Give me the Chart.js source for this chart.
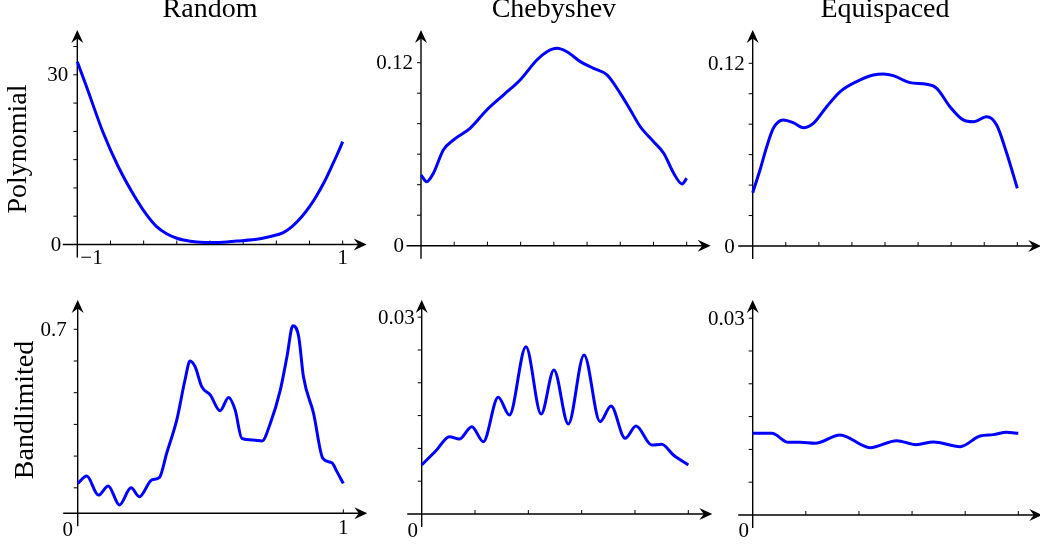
<!DOCTYPE html>
<html>
<head>
<meta charset="utf-8">
<script src="https://cdn.jsdelivr.net/npm/chart.js@4/dist/chart.umd.min.js"></script>
<style>
  html, body { margin: 0; padding: 0; background: #fff; }
  #lienzo { position: relative; width: 1040px; height: 546px; overflow: hidden; }
  #lienzo canvas { position: absolute; left: 0; top: 0; }
</style>
</head>
<body>
<div id="lienzo">
  <canvas id="randPoly" width="1040" height="546"></canvas>
  <canvas id="chebPoly" width="1040" height="546"></canvas>
  <canvas id="equiPoly" width="1040" height="546"></canvas>
  <canvas id="randBand" width="1040" height="546"></canvas>
  <canvas id="chebBand" width="1040" height="546"></canvas>
  <canvas id="equiBand" width="1040" height="546"></canvas>
</div>
<script>
"use strict";
/* Datos: fila superior (polinomios en [-1, 1]) */
const randPolyX = [-1, -0.935, -0.804, -0.691, -0.552, -0.47, -0.402, -0.327, -0.25, -0.2, -0.1, 0.05, 0.2, 0.376, 0.45, 0.552, 0.62, 0.691, 0.75, 0.8, 0.86, 0.917, 0.96, 1];
const randPolyY = [32.3, 28.2, 19.7, 13.75, 7.87, 5.0, 3.15, 1.9, 1.1, 0.8, 0.45, 0.35, 0.6, 1.0, 1.4, 2.1, 3.2, 4.9, 6.7, 8.5, 11.0, 13.8, 16.0, 18.17];

const chebPolyX = [-1, -0.957, -0.907, -0.832, -0.756, -0.631, -0.505, -0.38, -0.254, -0.128, -0.052, 0.023, 0.098, 0.199, 0.299, 0.4, 0.5, 0.576, 0.651, 0.751, 0.827, 0.902, 0.965, 1];
const chebPolyY = [0.0464, 0.042, 0.0475, 0.0628, 0.0693, 0.077, 0.089, 0.0988, 0.1087, 0.1218, 0.1272, 0.1294, 0.1272, 0.1207, 0.1163, 0.112, 0.0999, 0.089, 0.078, 0.0682, 0.0606, 0.0475, 0.0405, 0.0442];

const equiPolyX = [-1, -0.945, -0.894, -0.844, -0.769, -0.693, -0.618, -0.542, -0.441, -0.34, -0.214, -0.088, -0.013, 0.063, 0.189, 0.315, 0.391, 0.491, 0.592, 0.668, 0.769, 0.844, 0.92, 1];
const equiPolyY = [0.035, 0.0499, 0.0652, 0.0773, 0.0828, 0.081, 0.0777, 0.0806, 0.0915, 0.1013, 0.108, 0.1123, 0.113, 0.1119, 0.1073, 0.1062, 0.1036, 0.0915, 0.0828, 0.0816, 0.0849, 0.0795, 0.0609, 0.0379];

/* Datos: fila inferior (banda limitada en [0, 1]) */
const randBandX = [0, 0.034, 0.078, 0.115, 0.157, 0.201, 0.232, 0.279, 0.308, 0.335, 0.373, 0.404, 0.423, 0.442, 0.467, 0.499, 0.536, 0.568, 0.593, 0.618, 0.662, 0.694, 0.725, 0.763, 0.788, 0.81, 0.832, 0.85, 0.888, 0.923, 0.957, 0.976, 1];
const randBandY = [0.214, 0.237, 0.177, 0.206, 0.146, 0.2, 0.172, 0.225, 0.233, 0.309, 0.414, 0.54, 0.6, 0.582, 0.519, 0.493, 0.443, 0.485, 0.445, 0.356, 0.351, 0.348, 0.403, 0.509, 0.614, 0.711, 0.677, 0.55, 0.435, 0.293, 0.279, 0.251, 0.214];

const chebBandX = [0, 0.056, 0.104, 0.141, 0.188, 0.231, 0.287, 0.329, 0.391, 0.448, 0.496, 0.55, 0.609, 0.669, 0.71, 0.763, 0.804, 0.863, 0.9, 0.944, 1];
const chebBandY = [0.00747, 0.00976, 0.01179, 0.01143, 0.01331, 0.01102, 0.01779, 0.01509, 0.0255, 0.01524, 0.02195, 0.01372, 0.02424, 0.01407, 0.01646, 0.01154, 0.01341, 0.01052, 0.01062, 0.00899, 0.00747];

const equiBandX = [0, 0.072, 0.134, 0.178, 0.235, 0.329, 0.442, 0.542, 0.615, 0.68, 0.781, 0.856, 0.906, 0.956, 1];
const equiBandY = [0.01245, 0.01245, 0.01108, 0.01108, 0.01093, 0.0122, 0.01026, 0.01133, 0.01072, 0.01113, 0.01042, 0.01204, 0.01225, 0.01261, 0.01245];

/* Marcas de los ejes */
const ticksPolyX = [-0.75, -0.5, -0.25, 0, 0.25, 0.5, 0.75, 1];
const ticksRandPolyY = [5, 10, 15, 20, 25, 30, 35];
const ticksPolyY = [0.02, 0.04, 0.06, 0.08, 0.1, 0.12];
const ticksRandBandX = [1];
const ticksRandBandY = [0.2, 0.3, 0.4, 0.5, 0.6, 0.7];
const ticksBandX = [0.2, 0.4, 0.6, 0.8, 1];
const ticksBandY = [0.005, 0.01, 0.015, 0.02, 0.025, 0.03];

const FUENTE = '"Liberation Serif", "DejaVu Serif", serif';
const W = 1040, H = 546;

/* Flecha tipo "stealth" en la punta de un eje */
function flecha(ctx, x, y, ang) {
    ctx.save();
    ctx.translate(x, y);
    ctx.rotate(ang);
    ctx.beginPath();
    ctx.moveTo(0, 0);
    ctx.lineTo(-13, -6);
    ctx.lineTo(-8.5, 0);
    ctx.lineTo(-13, 6);
    ctx.closePath();
    ctx.fill();
    ctx.restore();
}

function linea(ctx, x1, y1, x2, y2) {
    ctx.beginPath();
    ctx.moveTo(x1, y1);
    ctx.lineTo(x2, y2);
    ctx.stroke();
}

/* Ejes cruzados con flechas, marcas y etiquetas */
const ejes = {
    id: "ejes",
    beforeDatasetsDraw(chart, args, o) {
        const { ctx, chartArea: a } = chart;
        const sx = chart.scales.x, sy = chart.scales.y;
        const x0 = sx.getPixelForValue(sx.min);
        const y0 = sy.getPixelForValue(sy.min);
        ctx.save();
        ctx.strokeStyle = "#000";
        ctx.fillStyle = "#000";
        ctx.lineWidth = 1.4;

        const xFin = a.right + 24;
        linea(ctx, x0 - 14.5, y0, xFin - 8, y0);
        flecha(ctx, xFin, y0, 0);
        linea(ctx, x0, y0 + 13, x0, a.top + 8);
        flecha(ctx, x0, a.top, -Math.PI / 2);

        ctx.lineWidth = 1;
        o.xTicks.forEach(v => {
            const p = sx.getPixelForValue(v);
            linea(ctx, p, y0, p, y0 - 4);
        });
        o.yTicks.forEach(v => {
            const p = sy.getPixelForValue(v);
            if (p > a.top + 12) linea(ctx, x0, p, x0 - 4, p);
        });

        ctx.font = "21px " + FUENTE;
        ctx.textBaseline = "middle";
        ctx.textAlign = "right";
        o.yLabels.forEach(l => {
            ctx.fillText(l.t, x0 + l.dx, sy.getPixelForValue(l.v) + 1);
        });
        ctx.textBaseline = "alphabetic";
        o.xLabels.forEach(l => {
            ctx.textAlign = l.align || "center";
            ctx.fillText(l.t, sx.getPixelForValue(l.v) + l.dx, y0 + l.dy);
        });

        ctx.font = "28px " + FUENTE;
        if (o.titulo) {
            ctx.textAlign = "center";
            ctx.fillText(o.titulo, (a.left + a.right) / 2, 17);
        }
        if (o.fila) {
            ctx.save();
            ctx.translate(o.fila.x, o.fila.y);
            ctx.rotate(-Math.PI / 2);
            ctx.textAlign = "center";
            ctx.fillText(o.fila.t, 0, 0);
            ctx.restore();
        }
        ctx.restore();
    }
};

/* Crear un panel: caja en píxeles del dominio [xmin,xmax] x [ymin,ymax] */
function crearPanel(id, xs, ys, caja, opcionesEjes) {
    const puntos = xs.map((x, i) => ({ x: x, y: ys[i] }));
    return new Chart(document.getElementById(id), {
        type: "line",
        data: {
            datasets: [{
                data: puntos,
                borderColor: "#0000ff",
                borderWidth: 3,
                pointRadius: 0,
                fill: false,
                cubicInterpolationMode: "monotone",
                clip: 4
            }]
        },
        options: {
            responsive: false,
            animation: false,
            events: [],
            layout: {
                padding: {
                    left: caja.izq,
                    right: W - caja.der,
                    top: caja.arriba,
                    bottom: H - caja.abajo
                }
            },
            scales: {
                x: { type: "linear", min: caja.xmin, max: caja.xmax, display: false },
                y: { type: "linear", min: caja.ymin, max: caja.ymax, display: false }
            },
            plugins: {
                legend: { display: false },
                tooltip: { enabled: false },
                ejes: opcionesEjes
            }
        },
        plugins: [ejes]
    });
}

document.addEventListener("DOMContentLoaded", () => {
    crearPanel("randPoly", randPolyX, randPolyY,
        { xmin: -1, xmax: 1, ymin: 0, ymax: 37.92, izq: 77.3, der: 342.7, arriba: 30, abajo: 244.5 },
        {
            xTicks: ticksPolyX, yTicks: ticksRandPolyY,
            yLabels: [{ v: 30, t: "30", dx: -9 }, { v: 0, t: "0", dx: -16 }],
            xLabels: [{ v: -1, t: "\u22121", dx: 3, dy: 19, align: "left" }, { v: 1, t: "1", dx: 0, dy: 19 }],
            titulo: "Random",
            fila: { t: "Polynomial", x: 26, y: 149 }
        });

    crearPanel("chebPoly", chebPolyX, chebPolyY,
        { xmin: -1, xmax: 1, ymin: 0, ymax: 0.14144, izq: 421, der: 686.7, arriba: 30, abajo: 245.7 },
        {
            xTicks: ticksPolyX, yTicks: ticksPolyY,
            yLabels: [{ v: 0.12, t: "0.12", dx: -8 }, { v: 0, t: "0", dx: -17 }],
            xLabels: [],
            titulo: "Chebyshev"
        });

    crearPanel("equiPoly", equiPolyX, equiPolyY,
        { xmin: -1, xmax: 1, ymin: 0, ymax: 0.14187, izq: 752.7, der: 1017.3, arriba: 30, abajo: 246 },
        {
            xTicks: ticksPolyX, yTicks: ticksPolyY,
            yLabels: [{ v: 0.12, t: "0.12", dx: -8 }, { v: 0, t: "0", dx: -18 }],
            xLabels: [],
            titulo: "Equispaced"
        });

    crearPanel("randBand", randBandX, randBandY,
        { xmin: 0, xmax: 1, ymin: 0.1196, ymax: 0.7924, izq: 77.7, der: 343.3, arriba: 300, abajo: 513.3 },
        {
            xTicks: ticksRandBandX, yTicks: ticksRandBandY,
            yLabels: [{ v: 0.7, t: "0.7", dx: -11 }],
            xLabels: [{ v: 0, t: "0", dx: -10, dy: 23 }, { v: 1, t: "1", dx: 0, dy: 21 }],
            fila: { t: "Bandlimited", x: 33, y: 410 }
        });

    crearPanel("chebBand", chebBandX, chebBandY,
        { xmin: 0, xmax: 1, ymin: 0, ymax: 0.03262, izq: 421.7, der: 688.3, arriba: 300, abajo: 514 },
        {
            xTicks: ticksBandX, yTicks: ticksBandY,
            yLabels: [{ v: 0.03, t: "0.03", dx: -7 }],
            xLabels: [{ v: 0, t: "0", dx: -9, dy: 23 }]
        });

    crearPanel("equiBand", equiBandX, equiBandY,
        { xmin: 0, xmax: 1, ymin: 0, ymax: 0.03277, izq: 752.7, der: 1018.3, arriba: 300, abajo: 515 },
        {
            xTicks: ticksBandX, yTicks: ticksBandY,
            yLabels: [{ v: 0.03, t: "0.03", dx: -8 }],
            xLabels: [{ v: 0, t: "0", dx: -9, dy: 22 }]
        });
});
</script>
</body>
</html>
